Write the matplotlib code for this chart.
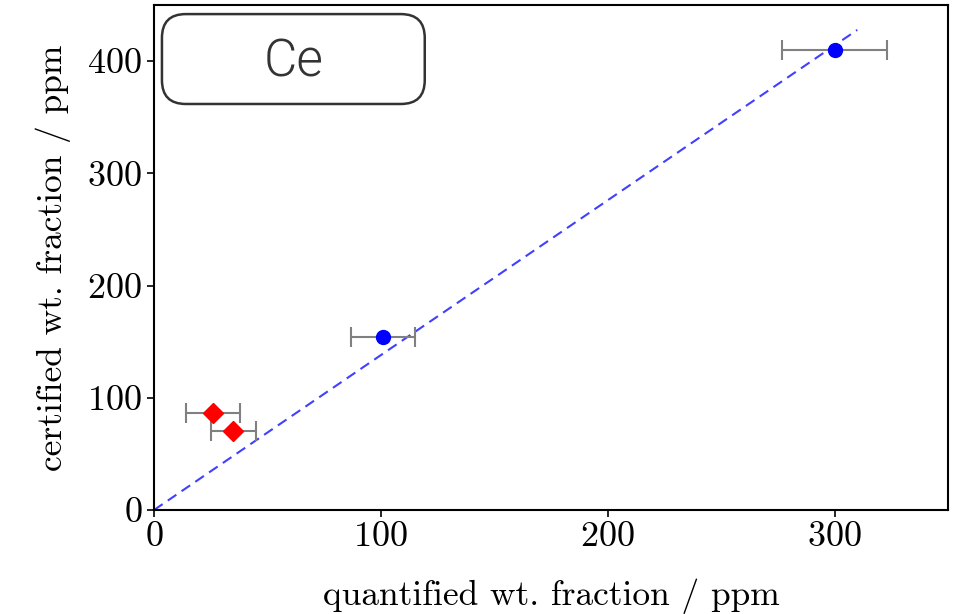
import matplotlib
matplotlib.use("Agg")
import matplotlib.pyplot as plt
from matplotlib.patches import FancyBboxPatch
import numpy as np

plt.rcParams["font.family"] = "serif"
plt.rcParams["font.serif"] = ["cmr10"]
plt.rcParams["mathtext.fontset"] = "cm"
plt.rcParams["axes.formatter.use_mathtext"] = True

element = "Ce"

# reference materials (blue circles)
ref_quant = [300, 101]
ref_quant_err = [23, 14]
ref_cert = [410, 154]

# additional samples (red diamonds)
smp_quant = [26, 35]
smp_quant_err = [12, 10]
smp_cert = [86, 70]

# proportional fit through origin
fit_slope = 1.38
fit_xmax = 310

fig = plt.figure(figsize=(9.58, 6.14), dpi=100)
ax = fig.add_axes([154 / 958, 1 - 510 / 614, 794 / 958, 505 / 614])

fx = np.array([0, fit_xmax])
ax.plot(fx, fit_slope * fx, ls="--", color="blue", alpha=0.75, lw=1.5, dashes=(5, 3), zorder=2)

ax.errorbar(ref_quant, ref_cert, xerr=ref_quant_err, fmt="o", color="blue",
            ms=10, ecolor="gray", elinewidth=1.5, capsize=7, capthick=1.5, zorder=3)
ax.errorbar(smp_quant, smp_cert, xerr=smp_quant_err, fmt="D", color="red",
            ms=10.5, ecolor="gray", elinewidth=1.5, capsize=7, capthick=1.5, zorder=3)

ax.set_xlim(0, 350)
ax.set_ylim(0, 450)
ax.set_xticks([0, 100, 200, 300])
ax.set_yticks([0, 100, 200, 300, 400])
ax.tick_params(labelsize=26, width=1.2, length=5)
for s in ax.spines.values():
    s.set_linewidth(1.5)

ax.set_xlabel("quantified wt. fraction / ppm", fontsize=25.5, labelpad=18)
ax.set_ylabel("certified wt. fraction / ppm", fontsize=25.5, labelpad=12)

box = FancyBboxPatch((0.010, 0.804), 0.331, 0.178,
                     boxstyle="round,pad=0,rounding_size=0.03",
                     transform=ax.transAxes, facecolor="white",
                     edgecolor="#333333", lw=1.8, zorder=5,
                     mutation_aspect=794 / 505)
ax.add_patch(box)
ax.text(0.176, 0.886, element, transform=ax.transAxes, ha="center", va="center",
        fontsize=37, family=["Roboto", "DejaVu Sans"], fontweight=300,
        color="#333333", zorder=6)

fig.savefig("out.png", dpi=100)
